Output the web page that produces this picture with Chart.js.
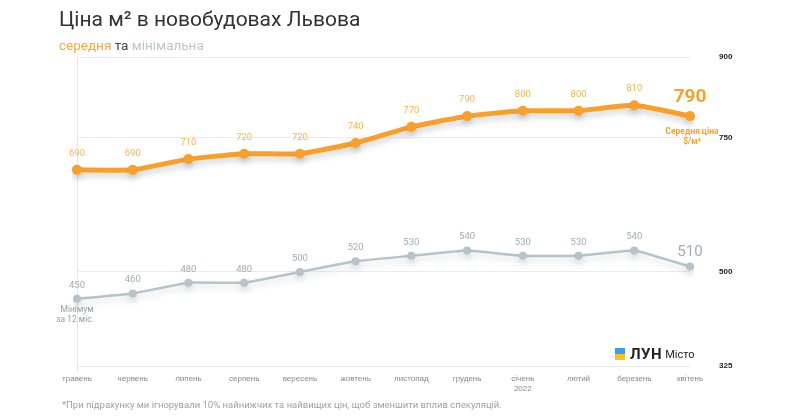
<!DOCTYPE html>
<html>
<head>
<meta charset="utf-8">
<script src="https://cdn.jsdelivr.net/npm/chart.js@4"></script>
<style>
  body { margin: 0; background: #fff; font-family: Roboto, "Noto Sans", sans-serif; }
  #wrap { position: relative; width: 808px; height: 420px; }
  #chart { position: absolute; left: 0; top: 0; }
  .title { position: absolute; left: 59px; top: 7px; font-size: 21px; color: #333; }
  .subtitle { position: absolute; left: 59px; top: 37px; font-size: 13.5px; color: #444; }
  .subtitle .avg { color: #f9a83a; }
  .subtitle .min { color: #b9c6cd; }
  .note { position: absolute; left: 62px; top: 399px; font-size: 9.5px; color: #a0a0a0; }
  .logo { position: absolute; left: 615px; top: 345px; font-size: 13px; color: #222; display: flex; align-items: center; }
  .flag { width: 10px; height: 12px; margin-right: 5px; }
  .flag div { height: 50%; }
  .logo b { font-size: 15px; letter-spacing: 0.5px; margin-right: 3px; }
  .logo span { font-size: 11px; }
</style>
</head>
<body>
<div id="wrap">
  <canvas id="chart" width="808" height="420"></canvas>
  <div class="title">Ціна м² в новобудовах Львова</div>
  <div class="subtitle"><span class="avg">середня</span> та <span class="min">мінімальна</span></div>
  <div class="logo"><div class="flag"><div style="background:#3d9bf0"></div><div style="background:#f8c320"></div></div><b>ЛУН</b><span>Місто</span></div>
  <div class="note">*При підрахунку ми ігнорували 10% найнижчих та найвищих цін, щоб зменшити вплив спекуляцій.</div>
</div>
<script>
const months = ["травень", "червень", "липень", "серпень", "вересень", "жовтень", "листопад", "грудень", ["січень", "2022"], "лютий", "березень", "квітень"];
const avgPrice = [690, 690, 710, 720, 720, 740, 770, 790, 800, 800, 810, 790];
const minPrice = [450, 460, 480, 480, 500, 520, 530, 540, 530, 530, 540, 510];
const yTicks = [900, 750, 500, 325];

const ORANGE = "#f9a02a";
const GREY = "#b5c3cb";

// shadow under the lines
const shadowPlugin = {
  id: "shadow",
  beforeDatasetDraw(chart, args) {
    const ctx = chart.ctx;
    ctx.save();
    ctx.shadowColor = args.index === 0 ? "rgba(120,130,140,0.35)" : "rgba(120,130,140,0.25)";
    ctx.shadowBlur = 6;
    ctx.shadowOffsetY = 4;
  },
  afterDatasetDraw(chart) {
    chart.ctx.restore();
  }
};

// value labels above points + notes for first/last point
const labelPlugin = {
  id: "labels",
  afterDatasetsDraw(chart) {
    const ctx = chart.ctx;
    ctx.save();
    ctx.textAlign = "center";
    chart.data.datasets.forEach((ds, di) => {
      const meta = chart.getDatasetMeta(di);
      meta.data.forEach((pt, i) => {
        const last = i === ds.data.length - 1;
        if (di === 0) {
          ctx.fillStyle = ORANGE;
          if (last) {
            ctx.font = "bold 19px Roboto";
            ctx.fillText(ds.data[i], pt.x, pt.y - 14);
            ctx.font = "bold 8.5px Roboto";
            ctx.fillText("Середня ціна", pt.x + 2, pt.y + 18);
            ctx.fillText("$/м²", pt.x + 2, pt.y + 28);
          } else {
            ctx.fillStyle = "#f9b350";
            ctx.font = "9.5px Roboto";
            ctx.fillText(ds.data[i], pt.x, pt.y - 14);
          }
        } else {
          ctx.fillStyle = "#9fadb5";
          if (last) {
            ctx.font = "15px Roboto";
            ctx.fillText(ds.data[i], pt.x, pt.y - 11);
          } else {
            ctx.font = "9.5px Roboto";
            ctx.fillText(ds.data[i], pt.x, pt.y - 11);
          }
          if (i === 0) {
            ctx.fillStyle = "#8e9ca4";
            ctx.font = "8.5px Roboto";
            ctx.fillText("Мінімум", pt.x, pt.y + 13);
            ctx.fillText("за 12 міс.", pt.x - 2, pt.y + 23);
          }
        }
      });
    });
    ctx.restore();
  }
};

new Chart(document.getElementById("chart"), {
  type: "line",
  data: {
    labels: months,
    datasets: [
      {
        data: avgPrice,
        borderColor: ORANGE,
        backgroundColor: ORANGE,
        borderWidth: 5,
        pointRadius: 5,
        pointBorderWidth: 0,
        pointHoverRadius: 5,
        tension: 0.15
      },
      {
        data: minPrice,
        borderColor: GREY,
        backgroundColor: GREY,
        borderWidth: 2.5,
        pointRadius: 4,
        pointBorderWidth: 0,
        pointHoverRadius: 4,
        tension: 0.1
      }
    ]
  },
  options: {
    responsive: false,
    animation: false,
    layout: { padding: { left: 77, top: 57, right: 0, bottom: 24 } },
    plugins: { legend: { display: false }, tooltip: { enabled: false } },
    scales: {
      x: {
        offset: false,
        grid: {
          color: ctx => ctx.index === 0 ? "#e3e7ea" : "transparent",
          tickLength: 6
        },
        border: { display: false },
        ticks: { color: "#888", font: { size: 8 }, padding: 2, maxRotation: 0, autoSkip: false },
        afterFit(scale) { scale.height = 30; }
      },
      y: {
        position: "right",
        min: 325,
        max: 900,
        afterBuildTicks(scale) { scale.ticks = yTicks.map(v => ({ value: v })); },
        grid: { color: "#e8ecee", drawTicks: false },
        border: { display: false },
        ticks: { color: "#222", font: { size: 8, weight: "bold" }, padding: 29 },
        afterFit(scale) { scale.width = 118; }
      }
    }
  },
  plugins: [shadowPlugin, labelPlugin]
});
</script>
</body>
</html>
